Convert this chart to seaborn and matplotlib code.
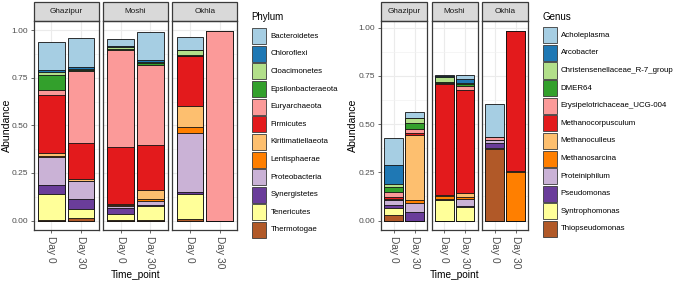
import numpy as np
import pandas as pd
import matplotlib
matplotlib.use("Agg")
import matplotlib.pyplot as plt
import seaborn as sns
from matplotlib.patches import Rectangle

# ---------------- data ----------------
sites = ["Ghazipur", "Moshi", "Okhla"]
time_points = ["Day 0", "Day 30"]

phyla = ["Bacteroidetes", "Chloroflexi", "Cloacimonetes", "Epsilonbacteraeota",
         "Euryarchaeota", "Firmicutes", "Kiritimatiellaeota", "Lentisphaerae",
         "Proteobacteria", "Synergistetes", "Tenericutes", "Thermotogae"]

phylum_ghazipur_d0 = [0.152, 0.010, 0.016, 0.078, 0.026, 0.305, 0.014, 0.005, 0.146, 0.049, 0.134, 0.005]
phylum_ghazipur_d30 = [0.155, 0.008, 0.004, 0.005, 0.380, 0.188, 0.010, 0.004, 0.094, 0.049, 0.047, 0.015]
phylum_moshi_d0 = [0.035, 0.009, 0.010, 0.003, 0.512, 0.300, 0.005, 0.005, 0.008, 0.034, 0.031, 0.002]
phylum_moshi_d30 = [0.148, 0.006, 0.008, 0.012, 0.416, 0.241, 0.045, 0.010, 0.020, 0.006, 0.075, 0.002]
phylum_okhla_d0 = [0.072, 0.000, 0.024, 0.003, 0.003, 0.260, 0.110, 0.035, 0.310, 0.010, 0.128, 0.010]
phylum_okhla_d30 = [0.0, 0.0, 0.0, 0.0, 0.998, 0.0, 0.0, 0.0, 0.0, 0.0, 0.0, 0.0]

genera = ["Acholeplasma", "Arcobacter", "Christensenellaceae_R-7_group", "DMER64",
          "Erysipelotrichaceae_UCG-004", "Methanocorpusculum", "Methanoculleus",
          "Methanosarcina", "Proteiniphilum", "Pseudomonas", "Syntrophomonas",
          "Thiopseudomonas"]

genus_ghazipur_d0 = [0.138, 0.100, 0.017, 0.025, 0.028, 0.010, 0.003, 0.003, 0.025, 0.012, 0.040, 0.027]
genus_ghazipur_d30 = [0.027, 0.003, 0.022, 0.033, 0.020, 0.012, 0.335, 0.015, 0.048, 0.045, 0.000, 0.000]
genus_moshi_d0 = [0.006, 0.004, 0.025, 0.008, 0.003, 0.575, 0.004, 0.020, 0.002, 0.002, 0.105, 0.000]
genus_moshi_d30 = [0.020, 0.020, 0.003, 0.012, 0.022, 0.535, 0.016, 0.015, 0.035, 0.004, 0.070, 0.000]
genus_okhla_d0 = [0.170, 0.000, 0.002, 0.000, 0.014, 0.003, 0.000, 0.000, 0.012, 0.030, 0.004, 0.370]
genus_okhla_d30 = [0.0, 0.0, 0.0, 0.0, 0.0, 0.727, 0.008, 0.250, 0.0, 0.0, 0.0, 0.0]

y_ticks = [0.0, 0.25, 0.5, 0.75, 1.0]
y_tick_labels = ["0.00", "0.25", "0.50", "0.75", "1.00"]


def long_table(cats, tables):
    rows = []
    for site, per_time in zip(sites, tables):
        for tp, vals in zip(time_points, per_time):
            for c, v in zip(cats, vals):
                rows.append((site, tp, c, v))
    return pd.DataFrame(rows, columns=["Site", "Time_point", "Taxon", "Abundance"])


phylum_df = long_table(phyla, [(phylum_ghazipur_d0, phylum_ghazipur_d30),
                               (phylum_moshi_d0, phylum_moshi_d30),
                               (phylum_okhla_d0, phylum_okhla_d30)])
genus_df = long_table(genera, [(genus_ghazipur_d0, genus_ghazipur_d30),
                               (genus_moshi_d0, genus_moshi_d30),
                               (genus_okhla_d0, genus_okhla_d30)])

# ---------------- style ----------------
sns.set_style("white")
plt.rcParams["font.family"] = ["Liberation Sans", "DejaVu Sans"]

palette = sns.color_palette("Paired", 12)
EDGE = "#111111"
FRAME = "#3a3a3a"
TICKC = "#4d4d4d"

W, H = 676, 281
fig = plt.figure(figsize=(W / 100, H / 100), dpi=100)
fig.patch.set_facecolor("white")


def add_ax(x0, x1, y0, y1):
    return fig.add_axes([x0 / W, 1 - y1 / H, (x1 - x0) / W, (y1 - y0) / H])


PANEL_TOP, PANEL_BOT = 21.0, 230.0
STRIP_TOP = 1.5


def draw_block(df, cats, xs, ylab_x, legend_x, legend_label_x, title, key_top):
    ymax = df.groupby(["Site", "Time_point"])["Abundance"].sum().max()
    ylim = (-0.05 * ymax, 1.05 * ymax)
    for k, (site, (x0, x1)) in enumerate(zip(sites, xs)):
        ax = add_ax(x0, x1, PANEL_TOP, PANEL_BOT)
        sub = df[df["Site"] == site].copy()
        sub["order"] = sub["Taxon"].map({c: i for i, c in enumerate(cats)})
        sub = sub.sort_values(["Time_point", "order"])
        # cumulative top: first category stacked on top, last at the bottom
        sub["top"] = sub[::-1].groupby("Time_point")["Abundance"].cumsum()[::-1]
        for i, c in enumerate(cats):
            layer = sub[sub["Taxon"] == c]
            sns.barplot(data=layer, x="Time_point", y="top", order=time_points,
                        color=palette[i], saturation=1, width=0.9,
                        edgecolor=EDGE, linewidth=0.6, errorbar=None, ax=ax)
        ax.set_xlim(-0.6, 1.6)
        ax.set_ylim(*ylim)
        ax.set_xlabel("")
        ax.set_ylabel("")
        ax.set_yticks(y_ticks)
        ax.set_yticks([0.125, 0.375, 0.625, 0.875], minor=True)
        ax.set_axisbelow(True)
        ax.grid(True, which="major", color="#ebebeb", lw=0.8)
        ax.grid(True, which="minor", axis="y", color="#f2f2f2", lw=0.5)
        for sp in ax.spines.values():
            sp.set_visible(True)
            sp.set_color(FRAME)
            sp.set_linewidth(0.9)
        ax.tick_params(axis="x", bottom=True, length=2.5, width=0.6, color=TICKC,
                       labelrotation=270, labelsize=7.3, labelcolor=TICKC, pad=1.5)
        if k == 0:
            ax.set_yticklabels(y_tick_labels)
            ax.tick_params(axis="y", left=True, length=2.5, width=0.6, color=TICKC,
                           labelsize=6.0, labelcolor=TICKC, pad=1.5)
        else:
            ax.tick_params(axis="y", left=False, labelleft=False)
        # facet strip
        sh = (PANEL_TOP - STRIP_TOP) / (PANEL_BOT - PANEL_TOP)
        ax.add_patch(Rectangle((0, 1), 1, sh, transform=ax.transAxes, clip_on=False,
                               facecolor="#d9d9d9", edgecolor=FRAME, lw=0.9))
        ax.text(0.5, 1 + sh / 2, site, transform=ax.transAxes, ha="center", va="center",
                fontsize=5.9, color="#1a1a1a")
    # axis titles
    fig.text(ylab_x / W, 1 - ((PANEL_TOP + PANEL_BOT) / 2) / H, "Abundance", rotation=90,
             ha="center", va="center", fontsize=7.6, color="black")
    fig.text(((xs[0][0] + xs[-1][1]) / 2) / W, 1 - 275.0 / H, "Time_point",
             ha="center", va="center", fontsize=7.3, color="black")
    # legend
    fig.text(legend_x / W, 1 - 17.0 / H, title, ha="left", va="center",
             fontsize=7.0, color="black")
    pitch = 17.6
    for i, c in enumerate(cats):
        yt = key_top + i * pitch
        fig.add_artist(Rectangle((legend_x / W, 1 - (yt + 16.0) / H), 14.5 / W, 16.0 / H,
                                 transform=fig.transFigure, facecolor=palette[i],
                                 edgecolor=FRAME, lw=0.6))
        fig.text(legend_label_x / W, 1 - (yt + 8.0) / H, c, ha="left", va="center",
                 fontsize=5.7, color="black")


left_xs = [(33.5, 98.8), (102.8, 168.1), (172.1, 237.4)]
right_xs = [(381.0, 427.1), (431.5, 477.6), (482.0, 528.1)]

draw_block(phylum_df, phyla, left_xs, 6.7, 251.7, 270.5, "Phylum", 28.3)
draw_block(genus_df, genera, right_xs, 353.3, 542.7, 560.5, "Genus", 27.3)

fig.savefig("out.png", dpi=100, facecolor="white")
